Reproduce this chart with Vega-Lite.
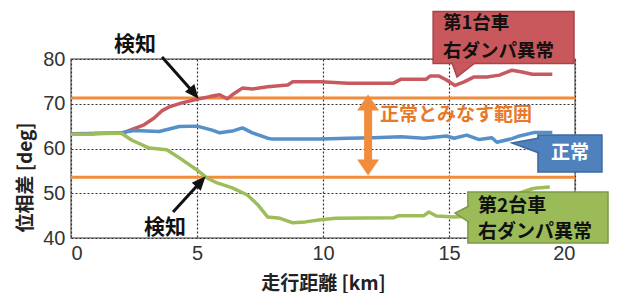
{
  "$schema": "https://vega.github.io/schema/vega-lite/v6.json",
  "width": 504,
  "height": 179,
  "autosize": {"type": "none"},
  "padding": {"left": 71, "top": 59, "right": 45, "bottom": 55},
  "background": "white",
  "config": {
    "view": {"stroke": "#7f7f7f", "strokeWidth": 1.5},
    "axis": {
      "grid": true,
      "gridColor": "#333333",
      "gridOpacity": 1,
      "gridDash": [2, 2],
      "gridWidth": 1.2,
      "domain": false,
      "ticks": false,
      "labelFont": "Liberation Sans",
      "labelFontSize": 20,
      "labelColor": "#333333",
      "titleFont": "Noto Sans CJK JP",
      "titleFontWeight": "bold",
      "titleFontSize": 19,
      "titleColor": "#222222"
    }
  },
  "datasets": {
    "lines": [
      {"s": "red", "x": 0, "y": 63.3}, {"s": "red", "x": 2.0, "y": 63.4}, {"s": "red", "x": 2.4, "y": 64.2}, {"s": "red", "x": 2.9, "y": 65.3}, {"s": "red", "x": 3.3, "y": 66.8}, {"s": "red", "x": 3.6, "y": 68.4}, {"s": "red", "x": 3.9, "y": 69.3}, {"s": "red", "x": 4.4, "y": 70.2}, {"s": "red", "x": 5.0, "y": 71.0}, {"s": "red", "x": 5.5, "y": 71.6}, {"s": "red", "x": 5.9, "y": 72.0}, {"s": "red", "x": 6.2, "y": 71.1}, {"s": "red", "x": 6.4, "y": 72.0}, {"s": "red", "x": 6.8, "y": 73.5}, {"s": "red", "x": 7.2, "y": 73.3}, {"s": "red", "x": 7.8, "y": 73.8}, {"s": "red", "x": 8.6, "y": 74.2}, {"s": "red", "x": 8.8, "y": 74.9}, {"s": "red", "x": 9.9, "y": 74.9}, {"s": "red", "x": 11.0, "y": 74.6}, {"s": "red", "x": 12.8, "y": 74.6}, {"s": "red", "x": 13.1, "y": 75.5}, {"s": "red", "x": 14.1, "y": 75.5}, {"s": "red", "x": 14.25, "y": 76.2}, {"s": "red", "x": 14.6, "y": 76.2}, {"s": "red", "x": 14.9, "y": 75.3}, {"s": "red", "x": 15.24, "y": 74.1}, {"s": "red", "x": 15.6, "y": 74.9}, {"s": "red", "x": 16.0, "y": 76.0}, {"s": "red", "x": 16.5, "y": 76.0}, {"s": "red", "x": 17.0, "y": 76.4}, {"s": "red", "x": 17.5, "y": 77.5}, {"s": "red", "x": 17.9, "y": 77.1}, {"s": "red", "x": 18.3, "y": 76.6}, {"s": "red", "x": 19.1, "y": 76.6},
      {"s": "blue", "x": 0, "y": 63.2}, {"s": "blue", "x": 2.0, "y": 63.5}, {"s": "blue", "x": 2.5, "y": 64.0}, {"s": "blue", "x": 3.5, "y": 63.8}, {"s": "blue", "x": 4.3, "y": 64.9}, {"s": "blue", "x": 5.0, "y": 65.0}, {"s": "blue", "x": 5.6, "y": 64.1}, {"s": "blue", "x": 5.9, "y": 63.5}, {"s": "blue", "x": 6.4, "y": 63.9}, {"s": "blue", "x": 6.8, "y": 64.6}, {"s": "blue", "x": 7.2, "y": 63.5}, {"s": "blue", "x": 7.8, "y": 62.3}, {"s": "blue", "x": 8.0, "y": 62.1}, {"s": "blue", "x": 9.9, "y": 62.1}, {"s": "blue", "x": 11.0, "y": 62.3}, {"s": "blue", "x": 12.0, "y": 62.4}, {"s": "blue", "x": 13.1, "y": 62.6}, {"s": "blue", "x": 14.0, "y": 62.3}, {"s": "blue", "x": 14.9, "y": 62.8}, {"s": "blue", "x": 15.2, "y": 62.3}, {"s": "blue", "x": 15.7, "y": 63.0}, {"s": "blue", "x": 16.2, "y": 62.0}, {"s": "blue", "x": 16.7, "y": 62.4}, {"s": "blue", "x": 16.9, "y": 61.4}, {"s": "blue", "x": 17.5, "y": 62.2}, {"s": "blue", "x": 17.8, "y": 62.8}, {"s": "blue", "x": 18.4, "y": 63.6}, {"s": "blue", "x": 19.1, "y": 63.6},
      {"s": "green", "x": 0, "y": 63.2}, {"s": "green", "x": 0.8, "y": 63.2}, {"s": "green", "x": 1.0, "y": 63.4}, {"s": "green", "x": 2.0, "y": 63.4}, {"s": "green", "x": 2.4, "y": 61.9}, {"s": "green", "x": 3.1, "y": 60.1}, {"s": "green", "x": 3.8, "y": 59.7}, {"s": "green", "x": 4.3, "y": 57.9}, {"s": "green", "x": 5.0, "y": 55.2}, {"s": "green", "x": 5.4, "y": 53.4}, {"s": "green", "x": 5.8, "y": 52.3}, {"s": "green", "x": 6.4, "y": 51.2}, {"s": "green", "x": 7.0, "y": 49.6}, {"s": "green", "x": 7.4, "y": 47.5}, {"s": "green", "x": 7.8, "y": 44.7}, {"s": "green", "x": 8.3, "y": 44.4}, {"s": "green", "x": 8.8, "y": 43.4}, {"s": "green", "x": 9.3, "y": 43.6}, {"s": "green", "x": 9.9, "y": 44.1}, {"s": "green", "x": 10.5, "y": 44.4}, {"s": "green", "x": 12.8, "y": 44.5}, {"s": "green", "x": 13.0, "y": 45.0}, {"s": "green", "x": 14.0, "y": 45.0}, {"s": "green", "x": 14.2, "y": 45.8}, {"s": "green", "x": 14.5, "y": 44.9}, {"s": "green", "x": 15.2, "y": 44.7}, {"s": "green", "x": 15.5, "y": 44.8}, {"s": "green", "x": 15.7, "y": 45.8}, {"s": "green", "x": 16.0, "y": 46.0}, {"s": "green", "x": 17.0, "y": 48.5}, {"s": "green", "x": 18.3, "y": 51.0}, {"s": "green", "x": 18.5, "y": 51.2}, {"s": "green", "x": 19.0, "y": 51.4}
    ],
    "limits": [{"y": 71.3}, {"y": 53.6}],
    "one": [{}]
  },
  "layer": [
    {
      "data": {"name": "limits"},
      "mark": {"type": "rule", "color": "#f08c3c", "strokeWidth": 3},
      "encoding": {
        "y": {"field": "y", "type": "quantitative", "scale": {"domain": [40, 80], "nice": false}}
      }
    },
    {
      "data": {"name": "lines"},
      "mark": {"type": "line", "strokeWidth": 3.5, "strokeJoin": "round"},
      "encoding": {
        "x": {"field": "x", "type": "quantitative", "scale": {"domain": [0, 20], "nice": false},
          "axis": {"values": [0, 5, 10, 15, 20], "labelPadding": 5, "title": "走行距離 [km]", "titlePadding": 11}},
        "y": {"field": "y", "type": "quantitative", "scale": {"domain": [40, 80], "nice": false},
          "axis": {"values": [40, 45, 50, 55, 60, 65, 70, 75, 80], "labelExpr": "datum.value % 10 === 0 ? datum.label : ''", "labelPadding": 6, "title": "位相差 [deg]", "titleX": -46, "titleY": 118, "titleBaseline": "middle", "titleAnchor": "middle"}},
        "color": {"field": "s", "type": "nominal", "legend": null, "scale": {"domain": ["red", "blue", "green"], "range": ["#c85a5f", "#5590c8", "#9cbd5a"]}},
        "order": {"value": 0}
      }
    },
    {
      "data": {"name": "one"},
      "mark": {"type": "rule", "color": "#f08c3c", "strokeWidth": 8},
      "encoding": {
        "x": {"datum": 11.79, "type": "quantitative", "scale": {"domain": [0, 20], "nice": false}},
        "y": {"datum": 68.9, "type": "quantitative", "scale": {"domain": [40, 80], "nice": false}},
        "y2": {"datum": 57.1}
      }
    },
    {
      "data": {"name": "one"},
      "mark": {"type": "point", "filled": true, "color": "#f08c3c", "opacity": 1, "shape": "M-11,8L11,8L0,-8Z", "size": 4},
      "encoding": {
        "x": {"datum": 11.79, "type": "quantitative", "scale": {"domain": [0, 20], "nice": false}},
        "y": {"datum": 70.3, "type": "quantitative", "scale": {"domain": [40, 80], "nice": false}}
      }
    },
    {
      "data": {"name": "one"},
      "mark": {"type": "point", "filled": true, "color": "#f08c3c", "opacity": 1, "shape": "M-11,-8L11,-8L0,8Z", "size": 4},
      "encoding": {
        "x": {"datum": 11.79, "type": "quantitative", "scale": {"domain": [0, 20], "nice": false}},
        "y": {"datum": 55.75, "type": "quantitative", "scale": {"domain": [40, 80], "nice": false}}
      }
    },
    {
      "data": {"name": "one"},
      "mark": {"type": "text", "text": "正常とみなす範囲", "font": "Noto Sans CJK JP", "fontWeight": "bold", "fontSize": 19, "color": "#e8782a", "align": "left", "baseline": "middle"},
      "encoding": {
        "x": {"datum": 12.26, "type": "quantitative", "scale": {"domain": [0, 20], "nice": false}},
        "y": {"datum": 67.5, "type": "quantitative", "scale": {"domain": [40, 80], "nice": false}}
      }
    },
    {
      "data": {"name": "one"},
      "mark": {"type": "rule", "color": "#111111", "strokeWidth": 3},
      "encoding": {
        "x": {"datum": 3.61, "type": "quantitative", "scale": {"domain": [0, 20], "nice": false}},
        "y": {"datum": 80.45, "type": "quantitative", "scale": {"domain": [40, 80], "nice": false}},
        "x2": {"datum": 4.86},
        "y2": {"datum": 72.5}
      }
    },
    {
      "data": {"name": "one"},
      "mark": {"type": "point", "filled": true, "color": "#111111", "opacity": 1, "shape": "M0,-8L6,6L-6,6Z", "size": 4, "angle": 141},
      "encoding": {
        "x": {"datum": 4.86, "type": "quantitative", "scale": {"domain": [0, 20], "nice": false}},
        "y": {"datum": 72.5, "type": "quantitative", "scale": {"domain": [40, 80], "nice": false}}
      }
    },
    {
      "data": {"name": "one"},
      "mark": {"type": "rule", "color": "#111111", "strokeWidth": 3},
      "encoding": {
        "x": {"datum": 4.05, "type": "quantitative", "scale": {"domain": [0, 20], "nice": false}},
        "y": {"datum": 45.8, "type": "quantitative", "scale": {"domain": [40, 80], "nice": false}},
        "x2": {"datum": 5.13},
        "y2": {"datum": 52.47}
      }
    },
    {
      "data": {"name": "one"},
      "mark": {"type": "point", "filled": true, "color": "#111111", "opacity": 1, "shape": "M0,-8L6,6L-6,6Z", "size": 4, "angle": 42},
      "encoding": {
        "x": {"datum": 5.13, "type": "quantitative", "scale": {"domain": [0, 20], "nice": false}},
        "y": {"datum": 52.47, "type": "quantitative", "scale": {"domain": [40, 80], "nice": false}}
      }
    },
    {
      "data": {"name": "one"},
      "mark": {"type": "text", "text": "検知", "font": "Noto Sans CJK JP", "fontWeight": "bold", "fontSize": 21, "color": "#111111", "align": "center", "baseline": "middle"},
      "encoding": {
        "x": {"datum": 2.54, "type": "quantitative", "scale": {"domain": [0, 20], "nice": false}},
        "y": {"datum": 83.13, "type": "quantitative", "scale": {"domain": [40, 80], "nice": false}}
      }
    },
    {
      "data": {"name": "one"},
      "mark": {"type": "text", "text": "検知", "font": "Noto Sans CJK JP", "fontWeight": "bold", "fontSize": 21, "color": "#111111", "align": "center", "baseline": "middle"},
      "encoding": {
        "x": {"datum": 3.73, "type": "quantitative", "scale": {"domain": [0, 20], "nice": false}},
        "y": {"datum": 42.2, "type": "quantitative", "scale": {"domain": [40, 80], "nice": false}}
      }
    },
    {
      "data": {"name": "one"},
      "mark": {"type": "rect", "fill": "#c9585c", "stroke": "#a9454a", "strokeWidth": 1.5},
      "encoding": {
        "x": {"datum": 14.37, "type": "quantitative", "scale": {"domain": [0, 20], "nice": false}},
        "x2": {"datum": 19.96},
        "y": {"datum": 90.6, "type": "quantitative", "scale": {"domain": [40, 80], "nice": false}},
        "y2": {"datum": 79.0}
      }
    },
    {
      "data": {"name": "one"},
      "mark": {"type": "point", "filled": true, "fill": "#c9585c", "stroke": "#a9454a", "strokeWidth": 1.5, "opacity": 1, "shape": "M-10,-7L-5,7L13,-7", "size": 4},
      "encoding": {
        "x": {"datum": 15.516, "type": "quantitative", "scale": {"domain": [0, 20], "nice": false}},
        "y": {"datum": 77.54, "type": "quantitative", "scale": {"domain": [40, 80], "nice": false}}
      }
    },
    {
      "data": {"name": "one"},
      "mark": {"type": "text", "text": "第1台車", "font": "Noto Sans CJK JP", "fontWeight": "bold", "fontSize": 18.5, "color": "#111111", "align": "left", "baseline": "middle"},
      "encoding": {
        "x": {"datum": 14.76, "type": "quantitative", "scale": {"domain": [0, 20], "nice": false}},
        "y": {"datum": 88.0, "type": "quantitative", "scale": {"domain": [40, 80], "nice": false}}
      }
    },
    {
      "data": {"name": "one"},
      "mark": {"type": "text", "text": "右ダンパ異常", "font": "Noto Sans CJK JP", "fontWeight": "bold", "fontSize": 18.5, "color": "#111111", "align": "left", "baseline": "middle"},
      "encoding": {
        "x": {"datum": 14.76, "type": "quantitative", "scale": {"domain": [0, 20], "nice": false}},
        "y": {"datum": 81.8, "type": "quantitative", "scale": {"domain": [40, 80], "nice": false}}
      }
    },
    {
      "data": {"name": "one"},
      "mark": {"type": "rect", "fill": "#4f81bd", "stroke": "#3b6a9f", "strokeWidth": 1.5},
      "encoding": {
        "x": {"datum": 18.53, "type": "quantitative", "scale": {"domain": [0, 20], "nice": false}},
        "x2": {"datum": 21.07},
        "y": {"datum": 63.0, "type": "quantitative", "scale": {"domain": [40, 80], "nice": false}},
        "y2": {"datum": 54.75}
      }
    },
    {
      "data": {"name": "one"},
      "mark": {"type": "point", "filled": true, "fill": "#4f81bd", "stroke": "#3b6a9f", "strokeWidth": 1.5, "opacity": 1, "shape": "M14,-7L-13,-2L14,8", "size": 4},
      "encoding": {
        "x": {"datum": 18.016, "type": "quantitative", "scale": {"domain": [0, 20], "nice": false}},
        "y": {"datum": 60.78, "type": "quantitative", "scale": {"domain": [40, 80], "nice": false}}
      }
    },
    {
      "data": {"name": "one"},
      "mark": {"type": "text", "text": "正常", "font": "Noto Sans CJK JP", "fontWeight": "bold", "fontSize": 19, "color": "#ffffff", "align": "center", "baseline": "middle"},
      "encoding": {
        "x": {"datum": 19.8, "type": "quantitative", "scale": {"domain": [0, 20], "nice": false}},
        "y": {"datum": 59.0, "type": "quantitative", "scale": {"domain": [40, 80], "nice": false}}
      }
    },
    {
      "data": {"name": "one"},
      "mark": {"type": "rect", "fill": "#9bbb59", "stroke": "#7d9a45", "strokeWidth": 1.5},
      "encoding": {
        "x": {"datum": 15.75, "type": "quantitative", "scale": {"domain": [0, 20], "nice": false}},
        "x2": {"datum": 21.31},
        "y": {"datum": 50.28, "type": "quantitative", "scale": {"domain": [40, 80], "nice": false}},
        "y2": {"datum": 38.88}
      }
    },
    {
      "data": {"name": "one"},
      "mark": {"type": "point", "filled": true, "fill": "#9bbb59", "stroke": "#7d9a45", "strokeWidth": 1.5, "opacity": 1, "shape": "M7,-8L-7,-1L7,8", "size": 4},
      "encoding": {
        "x": {"datum": 15.516, "type": "quantitative", "scale": {"domain": [0, 20], "nice": false}},
        "y": {"datum": 45.36, "type": "quantitative", "scale": {"domain": [40, 80], "nice": false}}
      }
    },
    {
      "data": {"name": "one"},
      "mark": {"type": "text", "text": "第2台車", "font": "Noto Sans CJK JP", "fontWeight": "bold", "fontSize": 19, "color": "#111111", "align": "left", "baseline": "middle"},
      "encoding": {
        "x": {"datum": 16.15, "type": "quantitative", "scale": {"domain": [0, 20], "nice": false}},
        "y": {"datum": 47.04, "type": "quantitative", "scale": {"domain": [40, 80], "nice": false}}
      }
    },
    {
      "data": {"name": "one"},
      "mark": {"type": "text", "text": "右ダンパ異常", "font": "Noto Sans CJK JP", "fontWeight": "bold", "fontSize": 19, "color": "#111111", "align": "left", "baseline": "middle"},
      "encoding": {
        "x": {"datum": 16.15, "type": "quantitative", "scale": {"domain": [0, 20], "nice": false}},
        "y": {"datum": 41.45, "type": "quantitative", "scale": {"domain": [40, 80], "nice": false}}
      }
    }
  ]
}
